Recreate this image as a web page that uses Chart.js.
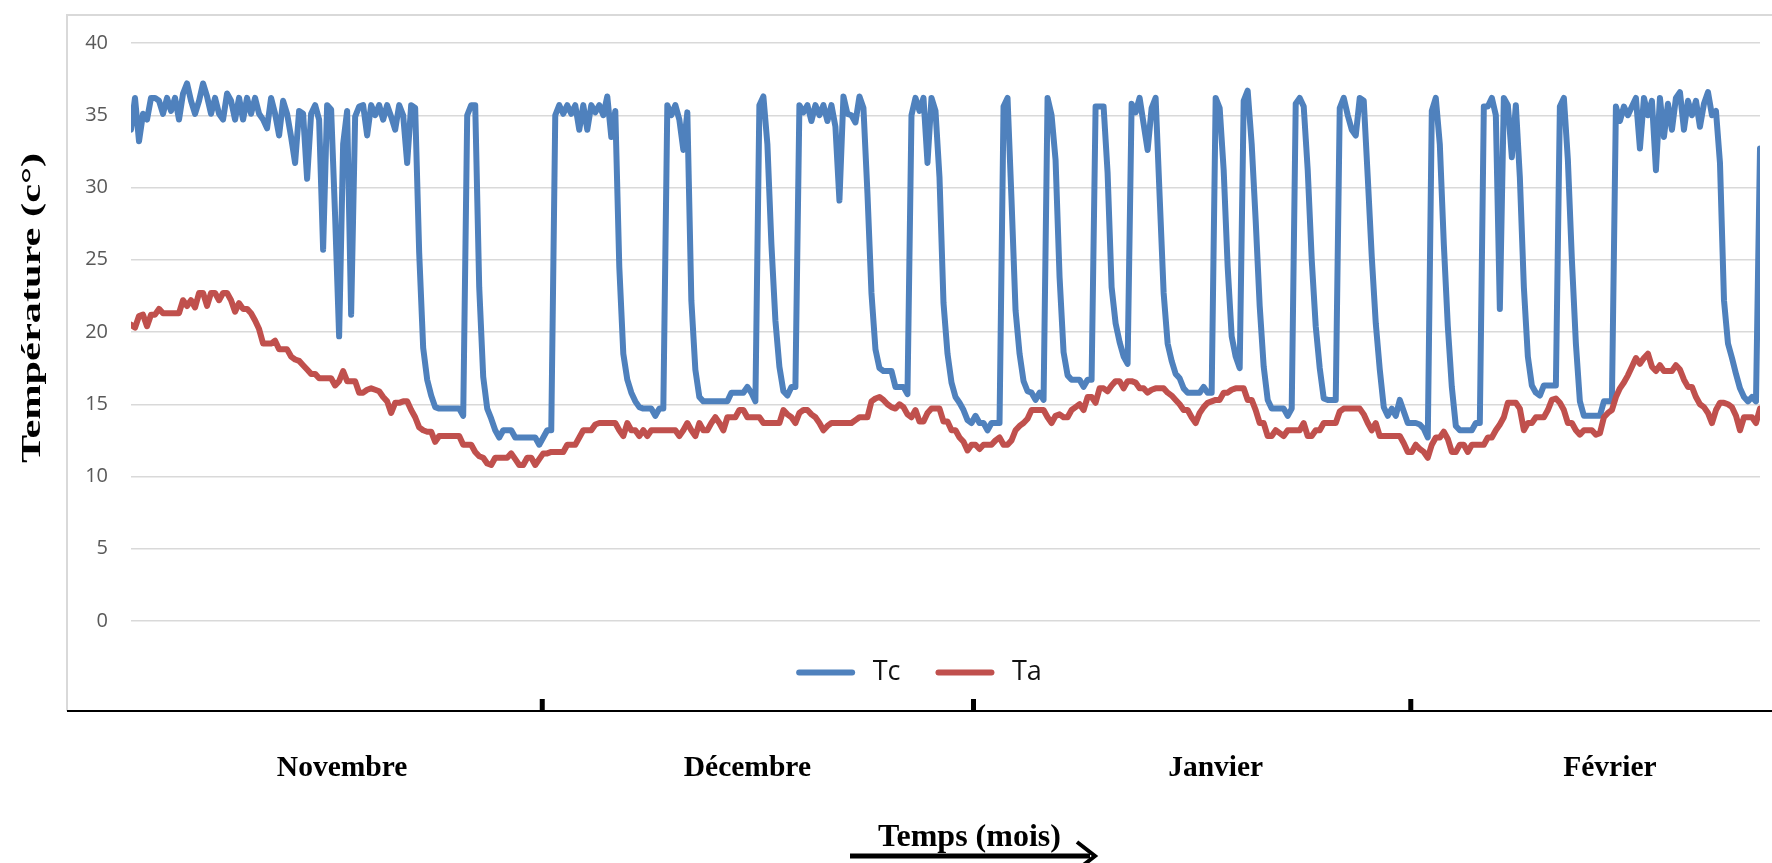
<!DOCTYPE html>
<html lang="fr">
<head>
<meta charset="utf-8">
<title>Température Tc / Ta</title>
<script src="https://cdn.jsdelivr.net/npm/chart.js@4.4.0/dist/chart.umd.min.js"></script>
<style>
  html, body { margin: 0; padding: 0; background: #fff; }
  canvas { display: block; }
</style>
</head>
<body>
<canvas id="chart" width="1772" height="863"></canvas>
<script>
const tc = [
  34.0, 36.2, 33.2, 35.1, 34.7, 36.2, 36.2, 36.0, 35.1, 36.2,
  35.3, 36.2, 34.7, 36.5, 37.2, 36.0, 35.1, 36.0, 37.2, 36.3,
  35.1, 36.2, 35.1, 34.7, 36.5, 36.0, 34.7, 36.2, 34.7, 36.2,
  35.1, 36.2, 35.1, 34.7, 34.1, 36.2, 35.1, 33.6, 36.0, 35.1,
  33.5, 31.7, 35.3, 35.1, 30.6, 35.1, 35.7, 34.7, 25.7, 35.7,
  35.4, 28.0, 19.7, 33.0, 35.3, 21.2, 34.9, 35.6, 35.7, 33.6,
  35.7, 35.0, 35.7, 34.7, 35.7, 34.9, 34.0, 35.7, 35.0, 31.7,
  35.7, 35.5, 25.5, 18.9, 16.7, 15.6, 14.8, 14.7, 14.7, 14.7,
  14.7, 14.7, 14.7, 14.2, 35.0, 35.7, 35.7, 23.1, 16.9, 14.7,
  14.0, 13.2, 12.7, 13.2, 13.2, 13.2, 12.7, 12.7, 12.7, 12.7,
  12.7, 12.7, 12.2, 12.7, 13.2, 13.2, 35.0, 35.7, 35.1, 35.7,
  35.1, 35.7, 34.0, 35.7, 34.0, 35.7, 35.2, 35.7, 35.0, 36.3,
  33.5, 35.3, 24.5, 18.5, 16.7, 15.8, 15.2, 14.8, 14.7, 14.7,
  14.7, 14.2, 14.7, 14.7, 35.7, 35.0, 35.7, 34.7, 32.6, 35.2,
  22.2, 17.4, 15.5, 15.2, 15.2, 15.2, 15.2, 15.2, 15.2, 15.2,
  15.8, 15.8, 15.8, 15.8, 16.2, 15.8, 15.2, 35.7, 36.3, 33.0,
  26.1, 20.8, 17.6, 15.9, 15.6, 16.2, 16.2, 35.7, 35.2, 35.7,
  34.6, 35.7, 35.0, 35.7, 34.6, 35.7, 34.2, 29.1, 36.3, 35.1,
  35.0, 34.5, 36.3, 35.5, 29.6, 22.7, 18.8, 17.5, 17.3, 17.3,
  17.3, 16.2, 16.2, 16.2, 15.7, 35.0, 36.2, 35.3, 36.2, 31.7,
  36.2, 35.3, 30.7, 22.0, 18.5, 16.5, 15.5, 15.1, 14.6, 13.9,
  13.7, 14.2, 13.7, 13.7, 13.2, 13.7, 13.7, 13.7, 35.6, 36.2,
  29.1, 21.5, 18.5, 16.6, 15.9, 15.8, 15.3, 15.8, 15.3, 36.2,
  35.0, 31.9, 23.8, 18.6, 17.0, 16.7, 16.7, 16.7, 16.2, 16.7,
  16.7, 35.6, 35.6, 35.6, 31.0, 23.1, 20.6, 19.3, 18.3, 17.8,
  35.8, 35.2, 36.2, 34.4, 32.6, 35.5, 36.2, 29.4, 22.7, 19.2,
  18.0, 17.1, 16.8, 16.1, 15.8, 15.8, 15.8, 15.8, 16.2, 15.8,
  15.8, 36.2, 35.5, 31.2, 24.5, 19.7, 18.3, 17.5, 36.0, 36.7,
  33.0, 27.7, 21.8, 17.6, 15.3, 14.7, 14.7, 14.7, 14.7, 14.2,
  14.7, 35.8, 36.2, 35.6, 31.2, 25.0, 20.4, 17.5, 15.4, 15.3,
  15.3, 15.3, 35.5, 36.2, 35.0, 34.0, 33.6, 36.2, 36.0, 30.7,
  25.2, 20.6, 17.4, 14.8, 14.2, 14.7, 14.2, 15.3, 14.5, 13.7,
  13.7, 13.7, 13.6, 13.3, 12.7, 35.3, 36.2, 33.0, 26.1, 20.4,
  16.2, 13.5, 13.2, 13.2, 13.2, 13.2, 13.7, 13.7, 35.6, 35.6,
  36.2, 35.0, 21.6, 36.2, 35.7, 32.1, 35.7, 30.7, 23.1, 18.3,
  16.3, 15.8, 15.6, 16.3, 16.3, 16.3, 16.3, 35.6, 36.2, 31.9,
  25.0, 19.2, 15.2, 14.2, 14.2, 14.2, 14.2, 14.2, 15.2, 15.2,
  15.2, 35.6, 34.6, 35.6, 35.0, 35.6, 36.2, 32.7, 36.2, 35.0,
  36.0, 31.2, 36.2, 33.5, 35.8, 34.0, 36.2, 36.6, 34.0, 36.0,
  35.0, 36.0, 34.2, 35.8, 36.6, 35.0, 35.3, 31.7, 22.2, 19.2,
  18.2, 17.1, 16.1, 15.5, 15.2, 15.5, 15.2, 32.7
];

const ta = [
  20.5, 20.3, 21.1, 21.2, 20.4, 21.2, 21.2, 21.6, 21.3, 21.3,
  21.3, 21.3, 21.3, 22.2, 21.8, 22.2, 21.7, 22.7, 22.7, 21.8,
  22.7, 22.7, 22.2, 22.7, 22.7, 22.2, 21.4, 22.0, 21.6, 21.6,
  21.3, 20.8, 20.2, 19.2, 19.2, 19.2, 19.4, 18.8, 18.8, 18.8,
  18.3, 18.1, 18.0, 17.7, 17.4, 17.1, 17.1, 16.8, 16.8, 16.8,
  16.8, 16.3, 16.6, 17.3, 16.6, 16.6, 16.6, 15.8, 15.8, 16.0,
  16.1, 16.0, 15.9, 15.5, 15.2, 14.4, 15.1, 15.1, 15.2, 15.2,
  14.6, 14.1, 13.4, 13.2, 13.1, 13.1, 12.4, 12.8, 12.8, 12.8,
  12.8, 12.8, 12.8, 12.2, 12.2, 12.2, 11.7, 11.4, 11.3, 10.9,
  10.8, 11.3, 11.3, 11.3, 11.3, 11.6, 11.2, 10.8, 10.8, 11.3,
  11.3, 10.8, 11.2, 11.6, 11.6, 11.7, 11.7, 11.7, 11.7, 12.2,
  12.2, 12.2, 12.7, 13.2, 13.2, 13.2, 13.6, 13.7, 13.7, 13.7,
  13.7, 13.7, 13.2, 12.8, 13.7, 13.2, 13.2, 12.8, 13.2, 12.8,
  13.2, 13.2, 13.2, 13.2, 13.2, 13.2, 13.2, 12.8, 13.2, 13.7,
  13.2, 12.8, 13.7, 13.2, 13.2, 13.7, 14.1, 13.7, 13.2, 14.1,
  14.1, 14.1, 14.6, 14.6, 14.1, 14.1, 14.1, 14.1, 13.7, 13.7,
  13.7, 13.7, 13.7, 14.6, 14.3, 14.1, 13.7, 14.4, 14.6, 14.6,
  14.3, 14.1, 13.7, 13.2, 13.5, 13.7, 13.7, 13.7, 13.7, 13.7,
  13.7, 13.9, 14.1, 14.1, 14.1, 15.2, 15.4, 15.5, 15.3, 15.0,
  14.8, 14.7, 15.0, 14.8, 14.3, 14.1, 14.6, 13.8, 13.8, 14.4,
  14.7, 14.7, 14.7, 13.8, 13.8, 13.2, 13.2, 12.7, 12.4, 11.8,
  12.2, 12.2, 11.9, 12.2, 12.2, 12.2, 12.5, 12.7, 12.2, 12.2,
  12.5, 13.2, 13.5, 13.7, 14.0, 14.6, 14.6, 14.6, 14.6, 14.1,
  13.7, 14.2, 14.3, 14.1, 14.1, 14.6, 14.8, 15.0, 14.6, 15.5,
  15.5, 15.1, 16.1, 16.1, 15.9, 16.3, 16.6, 16.6, 16.1, 16.6,
  16.6, 16.5, 16.1, 16.1, 15.8, 16.0, 16.1, 16.1, 16.1, 15.8,
  15.6, 15.3, 15.0, 14.6, 14.6, 14.1, 13.7, 14.4, 14.8, 15.1,
  15.2, 15.3, 15.3, 15.8, 15.8, 16.0, 16.1, 16.1, 16.1, 15.3,
  15.3, 14.6, 13.7, 13.7, 12.8, 12.8, 13.2, 13.0, 12.8, 13.2,
  13.2, 13.2, 13.2, 13.7, 12.8, 12.8, 13.2, 13.2, 13.7, 13.7,
  13.7, 13.7, 14.5, 14.7, 14.7, 14.7, 14.7, 14.7, 14.3, 13.7,
  13.2, 13.7, 12.8, 12.8, 12.8, 12.8, 12.8, 12.8, 12.3, 11.7,
  11.7, 12.2, 11.9, 11.7, 11.3, 12.2, 12.7, 12.7, 13.1, 12.6,
  11.7, 11.7, 12.2, 12.2, 11.7, 12.2, 12.2, 12.2, 12.2, 12.7,
  12.7, 13.2, 13.6, 14.1, 15.1, 15.1, 15.1, 14.7, 13.2, 13.7,
  13.7, 14.1, 14.1, 14.1, 14.6, 15.3, 15.4, 15.1, 14.6, 13.7,
  13.7, 13.2, 12.9, 13.2, 13.2, 13.2, 12.9, 13.0, 14.1, 14.4,
  14.6, 15.5, 16.1, 16.5, 17.0, 17.6, 18.2, 17.8, 18.2, 18.5,
  17.6, 17.3, 17.7, 17.3, 17.3, 17.3, 17.7, 17.4, 16.7, 16.2,
  16.2, 15.5, 15.0, 14.8, 14.4, 13.7, 14.6, 15.1, 15.1, 15.0,
  14.8, 14.2, 13.2, 14.1, 14.1, 14.1, 13.7, 14.7
];

const yTicks = [0, 5, 10, 15, 20, 25, 30, 35, 40];
const monthLabels = ['Novembre', 'Décembre', 'Janvier', 'Février'];
const monthCenters = [52.75, 154, 271, 369.5];
const monthBounds = [102.75, 210.5, 319.75];

const serif = '"Liberation Serif", "Times New Roman", serif';
const sans = '"Open Sans", "Liberation Sans", sans-serif';

const decor = {
  id: 'decor',
  afterDraw(chart) {
    const { ctx } = chart;
    const xs = chart.scales.x;
    const axisY = xs.top;
    ctx.save();

    ctx.strokeStyle = '#d9d9d9';
    ctx.lineWidth = 2;
    ctx.beginPath();
    ctx.moveTo(67, axisY);
    ctx.lineTo(67, 15);
    ctx.lineTo(chart.width, 15);
    ctx.stroke();

    ctx.strokeStyle = '#000';
    ctx.lineWidth = 2;
    ctx.beginPath();
    ctx.moveTo(67, axisY);
    ctx.lineTo(chart.width, axisY);
    ctx.stroke();

    ctx.lineWidth = 5;
    monthBounds.forEach(v => {
      const px = xs.getPixelForValue(v);
      ctx.beginPath();
      ctx.moveTo(px, axisY - 12);
      ctx.lineTo(px, axisY);
      ctx.stroke();
    });

    const yTitle = 'Température (c°)';
    ctx.fillStyle = '#000';
    ctx.font = 'bold 28px ' + serif;
    const w = ctx.measureText(yTitle).width;
    ctx.translate(33, 308);
    ctx.rotate(-Math.PI / 2);
    ctx.scale(310 / w, 1);
    ctx.textAlign = 'center';
    ctx.textBaseline = 'middle';
    ctx.fillText(yTitle, 0, 0);
    ctx.setTransform(1, 0, 0, 1, 0, 0);

    ctx.strokeStyle = '#000';
    ctx.lineWidth = 5;
    ctx.beginPath();
    ctx.moveTo(850, 856);
    ctx.lineTo(1090, 856);
    ctx.stroke();
    ctx.lineWidth = 4;
    ctx.beginPath();
    ctx.moveTo(1077, 842);
    ctx.lineTo(1095, 856);
    ctx.lineTo(1077, 870);
    ctx.stroke();

    ctx.restore();
  }
};

new Chart(document.getElementById('chart'), {
  type: 'line',
  data: {
    datasets: [
      { label: 'Ta', data: ta.map((y, i) => ({ x: i, y })), xAxisID: 'x', yAxisID: 'y',
        borderColor: '#c0504d', backgroundColor: '#c0504d' },
      { label: 'Tc', data: tc.map((y, i) => ({ x: i, y })), xAxisID: 'x', yAxisID: 'y',
        borderColor: '#4f81bd', backgroundColor: '#4f81bd' }
    ]
  },
  options: {
    responsive: false,
    animation: false,
    layout: { padding: { left: 81, right: 12, top: 43, bottom: 6 } },
    elements: {
      line: { borderWidth: 6, tension: 0, borderJoinStyle: 'round', borderCapStyle: 'round' },
      point: { radius: 0, hoverRadius: 0 }
    },
    plugins: {
      tooltip: { enabled: false },
      legend: {
        position: 'bottom',
        labels: {
          usePointStyle: true,
          pointStyle: 'line',
          pointStyleWidth: 53,
          padding: 38,
          color: '#111',
          font: { family: sans, size: 27 },
          sort: (a, b) => b.datasetIndex - a.datasetIndex,
          generateLabels: chart => Chart.defaults.plugins.legend.labels.generateLabels(chart)
            .map(item => Object.assign(item, { text: ' ' + item.text, lineWidth: 6, lineCap: 'round' }))
        }
      }
    },
    scales: {
      x: {
        type: 'linear',
        position: 'bottom',
        weight: 1500,
        min: 0,
        max: tc.length - 1,
        grid: { display: false, drawTicks: false },
        border: { display: false },
        afterBuildTicks: s => { s.ticks = monthCenters.map(v => ({ value: v })); },
        afterFit: s => { s.height = 146; },
        ticks: {
          autoSkip: false,
          maxRotation: 0,
          padding: 40,
          color: '#000',
          font: { family: serif, size: 29.5, weight: 'bold' },
          callback: (v, i) => monthLabels[i]
        },
        title: {
          display: true,
          text: '      Temps (mois)',
          color: '#000',
          font: { family: serif, size: 32, weight: 'bold' },
          padding: { top: 0, bottom: 0 }
        }
      },
      gap: {
        type: 'linear',
        position: 'bottom',
        weight: 1200,
        grid: { display: false, drawTicks: false },
        border: { display: false },
        ticks: { display: false },
        afterFit: s => { s.height = 15; }
      },
      y: {
        min: 0,
        max: 40,
        afterBuildTicks: s => { s.ticks = yTicks.map(v => ({ value: v })); },
        afterFit: s => { s.width = 50; },
        grid: { color: '#d9d9d9', lineWidth: 1.5, drawTicks: false },
        border: { display: false },
        ticks: { padding: 23, color: '#595959', font: { family: sans, size: 20 } }
      }
    }
  },
  plugins: [decor]
});
</script>
</body>
</html>
